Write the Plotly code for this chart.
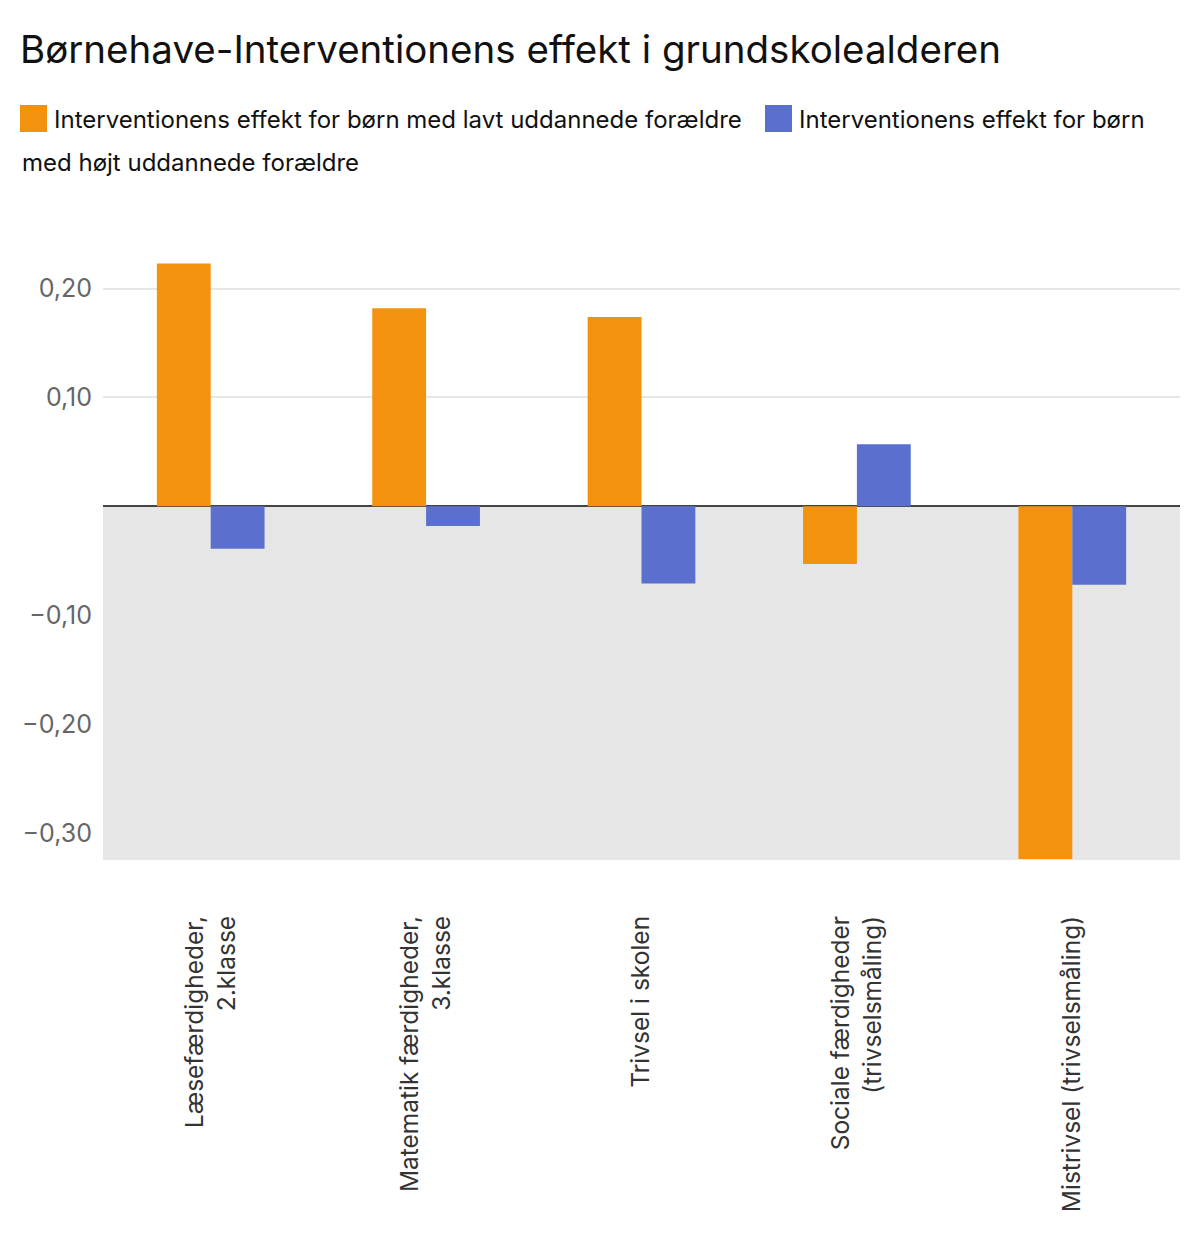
import plotly.graph_objects as go

# categories and values
categories = [
    "Læsefærdigheder,<br>2.klasse",
    "Matematik færdigheder,<br>3.klasse",
    "Trivsel i skolen",
    "Sociale færdigheder<br>(trivselsmåling)",
    "Mistrivsel (trivselsmåling)",
]
lavt = [0.223, 0.182, 0.174, -0.053, -0.324]
hojt = [-0.039, -0.018, -0.071, 0.057, -0.072]

name_lavt = "Interventionens effekt for børn med lavt uddannede forældre"
name_hojt = "Interventionens effekt for børn med højt uddannede forældre"

ytick_vals = [-0.3, -0.2, -0.1, 0.1, 0.2]
ytick_text = ["\u22120,30", "\u22120,20", "\u22120,10", "0,10", "0,20"]

orange = "#F2920D"
blue = "#5B70CE"
font = "Inter"

# page puts the figure 8px in from the top-left corner
OFF = 8
L, R, T, B = 103 - OFF, 28, 256 - OFF, 382
W, H = 1200, 1234

fig = go.Figure()
fig.add_trace(go.Bar(x=categories, y=lavt, name=name_lavt, marker_color=orange, marker_line_width=0))
fig.add_trace(go.Bar(x=categories, y=hojt, name=name_hojt, marker_color=blue, marker_line_width=0))

fig.update_layout(
    width=W, height=H,
    margin=dict(l=L, r=R, t=T, b=B),
    paper_bgcolor="white", plot_bgcolor="white",
    barmode="group", bargap=0.5, bargroupgap=0,
    showlegend=False,
    font=dict(family=font, size=24, color="#222"),
    title=dict(text="Børnehave-Interventionens effekt i grundskolealderen",
               x=(20 - OFF) / W, xanchor="left", y=1 - (50 - OFF) / H, yanchor="middle",
               font=dict(size=38.5, color="#111", family=font)),
)

fig.update_yaxes(
    range=[-0.325, 0.23], tickvals=ytick_vals, ticktext=ytick_text,
    showgrid=True, gridcolor="#e6e6e6", gridwidth=2,
    zeroline=True, zerolinecolor="#444", zerolinewidth=2,
    tickfont=dict(size=25, color="#666"), ticks="", ticklabelstandoff=10,
)
fig.update_xaxes(
    tickangle=-90, tickfont=dict(size=24.5, color="#333"),
    showline=False, ticks="", ticklabelstandoff=50,
)

# gray shading for negative area
fig.add_shape(type="rect", xref="paper", yref="y", x0=0, x1=1, y0=-0.325, y1=0,
              fillcolor="#e6e6e6", line_width=0, layer="below")

# manual legend (wraps like the reference); positions given in page pixels
plot_w = W - L - R
plot_h = H - T - B

def px_x(v):
    return (v - OFF - L) / plot_w

def px_y(v):
    return (H - B - (v - OFF)) / plot_h

for x0, color in [(20, orange), (765, blue)]:
    fig.add_shape(type="rect", xref="paper", yref="paper",
                  x0=px_x(x0), x1=px_x(x0 + 27), y0=px_y(132), y1=px_y(105),
                  fillcolor=color, line_width=0)

legend_lines = [
    (52, 119, "Interventionens effekt for børn med lavt uddannede forældre"),
    (797, 119, "Interventionens effekt for børn"),
    (20, 163, "med højt uddannede forældre"),
]
for x0, y0, txt in legend_lines:
    fig.add_annotation(text=txt, xref="paper", yref="paper", x=px_x(x0), y=px_y(y0),
                       xanchor="left", yanchor="middle", showarrow=False,
                       font=dict(size=24, color="#111", family=font))

fig.write_html("out.html")
